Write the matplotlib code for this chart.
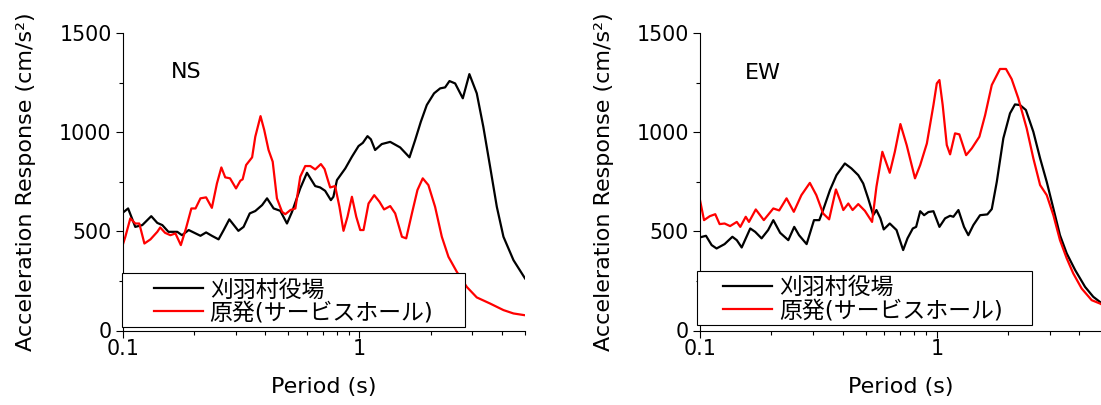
import matplotlib
matplotlib.use("Agg")
import matplotlib.pyplot as plt
from matplotlib.ticker import FixedLocator, FixedFormatter, NullFormatter
from matplotlib.patches import Rectangle

plt.rcParams['font.family'] = ['DejaVu Sans', 'Noto Sans CJK JP']

# ---------------- data ----------------
ns_black_T = [0.100, 0.1054, 0.113, 0.121, 0.132, 0.140, 0.147, 0.156, 0.170, 0.178,
              0.190, 0.213, 0.225, 0.238, 0.254, 0.267, 0.282, 0.308, 0.324, 0.344,
              0.363, 0.388, 0.407, 0.434, 0.463, 0.494, 0.519, 0.562, 0.600, 0.650,
              0.682, 0.716, 0.757, 0.776, 0.803, 0.871, 0.929, 0.991, 1.033, 1.081,
              1.117, 1.164, 1.242, 1.348, 1.485, 1.626, 1.718, 1.815, 1.924, 2.065,
              2.191, 2.299, 2.399, 2.535, 2.731, 2.911, 3.128, 3.334, 3.562, 3.802,
              4.055, 4.47, 5.0]
ns_black_A = [594, 616, 523, 532, 577, 543, 532, 498, 498, 481,
              507, 478, 495, 478, 460, 507, 561, 503, 523, 591,
              603, 633, 667, 616, 604, 540, 599, 717, 796, 729,
              722, 705, 658, 675, 759, 818, 877, 931, 947, 981,
              965, 911, 941, 952, 924, 874, 961, 1053, 1138, 1197,
              1222, 1227, 1259, 1247, 1172, 1294, 1197, 1028, 826, 624,
              473, 355, 263]

ns_red_T = [0.100, 0.1026, 0.1077, 0.113, 0.1175, 0.1235, 0.131, 0.140, 0.144, 0.151,
            0.159, 0.167, 0.176, 0.185, 0.195, 0.203, 0.213, 0.225, 0.238, 0.250,
            0.261, 0.271, 0.284, 0.301, 0.314, 0.321, 0.332, 0.352, 0.363, 0.382,
            0.396, 0.413, 0.430, 0.448, 0.471, 0.486, 0.511, 0.536, 0.562, 0.590,
            0.620, 0.650, 0.687, 0.712, 0.735, 0.752, 0.789, 0.823, 0.856, 0.890,
            0.929, 0.969, 1.007, 1.040, 1.092, 1.154, 1.214, 1.270, 1.348, 1.415,
            1.511, 1.575, 1.665, 1.757, 1.850, 1.954, 2.086, 2.227, 2.375, 2.577,
            2.839, 3.128, 3.562, 4.055, 4.47, 5.0]
ns_red_A = [431, 473, 566, 540, 540, 439, 460, 498, 520, 493,
            481, 490, 431, 515, 616, 616, 667, 672, 619, 742,
            823, 773, 768, 717, 756, 763, 835, 874, 978, 1082,
            1012, 911, 852, 667, 599, 587, 608, 616, 776, 830,
            830, 813, 840, 815, 760, 722, 729, 624, 503, 574,
            675, 574, 507, 507, 641, 683, 650, 611, 628, 591,
            473, 465, 591, 709, 768, 734, 624, 473, 372, 296,
            220, 167, 136, 103, 86, 77]

ew_black_T = [0.100, 0.106, 0.112, 0.1175, 0.127, 0.137, 0.143, 0.150, 0.163, 0.171,
              0.182, 0.194, 0.204, 0.218, 0.236, 0.250, 0.262, 0.282, 0.303, 0.319,
              0.331, 0.354, 0.377, 0.409, 0.436, 0.466, 0.489, 0.513, 0.539, 0.556,
              0.578, 0.597, 0.633, 0.676, 0.721, 0.752, 0.792, 0.818, 0.851, 0.884,
              0.922, 0.968, 1.026, 1.084, 1.138, 1.175, 1.234, 1.303, 1.359, 1.427,
              1.523, 1.635, 1.707, 1.792, 1.910, 2.038, 2.139, 2.245, 2.378, 2.557,
              2.731, 2.913, 3.107, 3.313, 3.538, 3.84, 4.23, 4.58, 4.89, 5.0]
ew_black_A = [470, 478, 431, 414, 436, 473, 456, 419, 515, 498,
              465, 507, 557, 493, 456, 523, 481, 436, 557, 557,
              608, 709, 784, 843, 818, 784, 742, 667, 582, 608,
              566, 510, 540, 507, 406, 465, 515, 523, 602, 582,
              598, 602, 523, 566, 579, 574, 608, 523, 481, 532,
              582, 586, 613, 750, 970, 1096, 1141, 1138, 1113, 1003,
              869, 750, 616, 481, 389, 305, 220, 170, 144, 135]

ew_red_T = [0.100, 0.104, 0.110, 0.116, 0.121, 0.127, 0.134, 0.143, 0.148, 0.156,
            0.161, 0.172, 0.186, 0.204, 0.216, 0.232, 0.249, 0.268, 0.291, 0.310,
            0.331, 0.351, 0.375, 0.390, 0.403, 0.423, 0.441, 0.466, 0.497, 0.533,
            0.556, 0.589, 0.633, 0.665, 0.702, 0.746, 0.809, 0.851, 0.908, 0.968,
            1.000, 1.026, 1.059, 1.102, 1.138, 1.194, 1.245, 1.330, 1.405, 1.513,
            1.600, 1.707, 1.849, 1.960, 2.071, 2.209, 2.397, 2.557, 2.731, 2.913,
            3.107, 3.313, 3.538, 3.77, 4.09, 4.51, 4.89, 5.0]
ew_red_A = [658, 557, 577, 587, 537, 540, 527, 548, 523, 574,
            548, 611, 557, 616, 606, 667, 599, 683, 745, 683,
            591, 561, 712, 658, 608, 641, 608, 638, 604, 548,
            725, 902, 796, 902, 1042, 936, 768, 835, 944, 1138,
            1247, 1264, 1138, 936, 889, 995, 990, 885, 919, 978,
            1087, 1239, 1320, 1320, 1269, 1172, 1020, 869, 734, 683,
            582, 456, 364, 288, 212, 153, 136, 130]

series_labels = ['刈羽村役場', '原発(サービスホール)']
panel_titles = ['NS', 'EW']
x_major = [0.1, 1]
x_major_labels = ['0.1', '1']
x_minor = [0.2, 0.3, 0.4, 0.5, 0.6, 0.7, 0.8, 0.9, 2, 3, 4, 5]
y_major = [0, 500, 1000, 1500]
y_minor = [250, 750, 1250]
xlabel = 'Period (s)'
ylabel = 'Acceleration Response (cm/s²)'

# ---------------- figure ----------------
fig = plt.figure(figsize=(11.01, 4.05), dpi=100)
W, H = 1101, 405
ax_w = 402.3 / W
ax_h = 297.2 / H
ax_b = (405 - 330.5) / H
axes = [fig.add_axes([122.7 / W, ax_b, ax_w, ax_h]),
        fig.add_axes([700.0 / W, ax_b, ax_w, ax_h])]

data = [((ns_black_T, ns_black_A), (ns_red_T, ns_red_A)),
        ((ew_black_T, ew_black_A), (ew_red_T, ew_red_A))]

legend_rects = [(-0.0025, 0.0108, 0.8533, 0.1837),
                (-0.0067, 0.0185, 0.8312, 0.1827)]
legend_anchor = [(0.0778, 0.0980), (0.058, 0.1050)]
title_pos = [(0.119, 0.871), (0.112, 0.866)]

for i, ax in enumerate(axes):
    (bT, bA), (rT, rA) = data[i]
    ax.plot(bT, bA, color='black', lw=1.6, label=series_labels[0], zorder=2)
    ax.plot(rT, rA, color='#ff0000', lw=1.6, label=series_labels[1], zorder=2)
    ax.set_xscale('log')
    ax.set_xlim(0.1, 5)
    ax.set_ylim(0, 1500)
    ax.spines['top'].set_visible(False)
    ax.spines['right'].set_visible(False)
    for s in ('left', 'bottom'):
        ax.spines[s].set_linewidth(0.8)
    ax.xaxis.set_major_locator(FixedLocator(x_major))
    ax.xaxis.set_major_formatter(FixedFormatter(x_major_labels))
    ax.xaxis.set_minor_locator(FixedLocator(x_minor))
    ax.xaxis.set_minor_formatter(NullFormatter())
    ax.yaxis.set_major_locator(FixedLocator(y_major))
    ax.yaxis.set_minor_locator(FixedLocator(y_minor))
    ax.tick_params(axis='both', which='major', direction='out', length=5,
                   width=0.8, labelsize=14.8)
    ax.tick_params(axis='both', which='minor', direction='out', length=2.8,
                   width=0.8)
    ax.tick_params(axis='x', which='major', pad=1)
    ax.tick_params(axis='y', which='major', pad=3)
    ax.set_xlabel(xlabel, fontsize=16)
    ax.set_ylabel(ylabel, fontsize=16)
    ax.xaxis.set_label_coords(0.5, -0.155)
    ax.yaxis.set_label_coords(-0.215, 0.5)
    ax.text(title_pos[i][0], title_pos[i][1], panel_titles[i], transform=ax.transAxes,
            ha='left', va='center', fontsize=16)
    rx, ry, rw, rh = legend_rects[i]
    ax.add_patch(Rectangle((rx, ry), rw, rh, transform=ax.transAxes,
                           facecolor='white', edgecolor='black', lw=0.8,
                           zorder=4, clip_on=False))
    leg = ax.legend(loc='center left', bbox_to_anchor=legend_anchor[i],
                    frameon=False, fontsize=16.5, borderpad=0, borderaxespad=0,
                    handlelength=2.13, handletextpad=0.3, labelspacing=0.0)
    leg.set_zorder(5)

fig.savefig('out.png', dpi=100)
